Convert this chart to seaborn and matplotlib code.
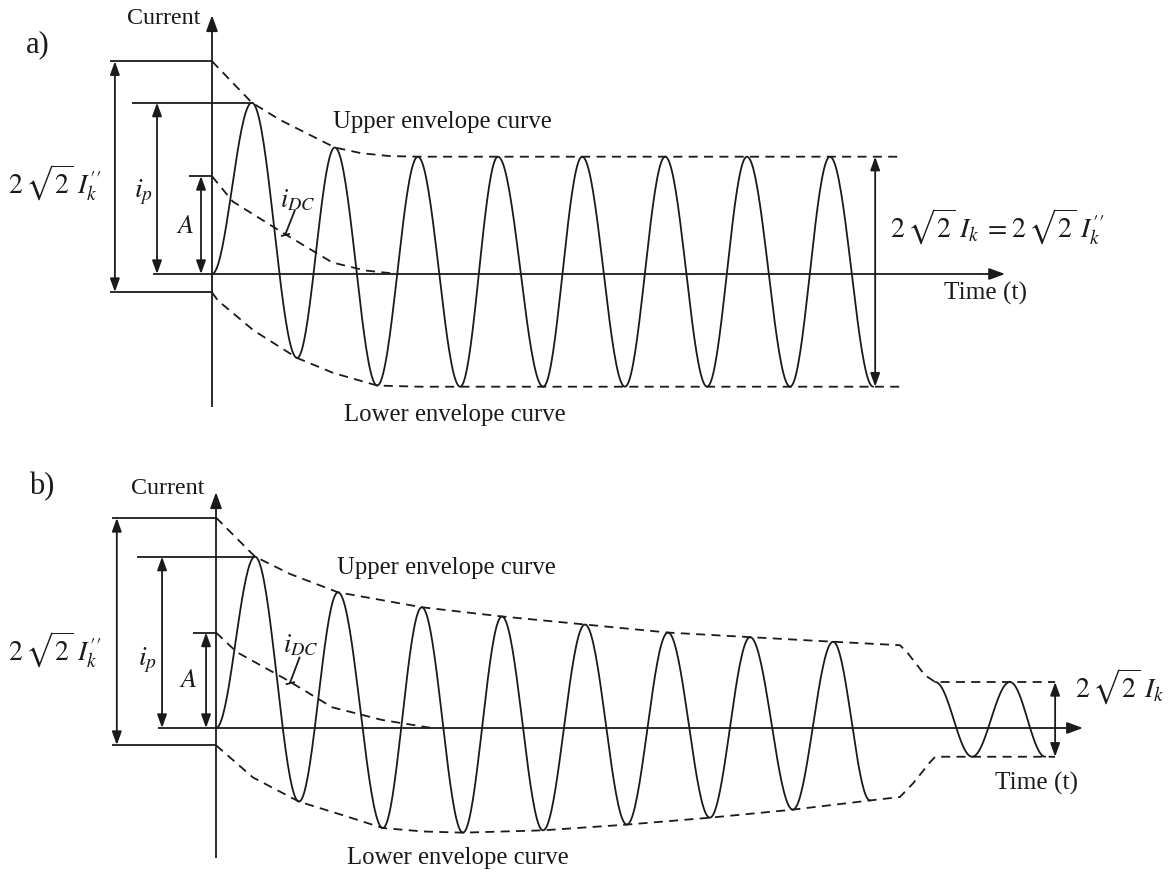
import numpy as np
import matplotlib
matplotlib.use("Agg")
import matplotlib.pyplot as plt
import seaborn as sns

# ---------------- data (time in ms, current in per-unit of steady peak) ----------------
# panel a) : far-from-generator short circuit
wave_a_t = [0, 9.6, 20.5, 29.6, 39.8, 49.6, 59.8, 68.9, 79.8, 89.2, 99.5, 109.2, 119.3, 128.9, 139.3, 148.9, 159.3]
wave_a_i = [0, 1.49, -0.73, 1.10, -0.97, 1.02, -0.98, 1.02, -0.98, 1.02, -0.98, 1.02, -0.98, 1.02, -0.98, 1.02, -0.98]
up_a_t = [0, 9.6, 16.4, 29.6, 36, 43, 50, 166.5]
up_a_i = [1.85, 1.49, 1.34, 1.10, 1.05, 1.025, 1.02, 1.02]
lo_a_t = [0, 1.4, 10, 20.5, 29.2, 39.8, 50, 166.5]
lo_a_i = [-0.16, -0.23, -0.49, -0.73, -0.86, -0.97, -0.98, -0.98]
dc_a_t = [0, 5, 17, 29, 37, 45]
dc_a_i = [0.85, 0.63, 0.36, 0.10, 0.03, 0.0]

# panel b) : near-to-generator short circuit
wave_b_t = [0, 9.4, 20.0, 29.4, 40.2, 49.6, 59.5, 68.9, 78.8, 88.9, 99.0, 108.9, 119.0, 128.7, 139.0, 148.7, 157.6]
wave_b_i = [0, 1.49, -0.64, 1.18, -0.87, 1.05, -0.91, 0.97, -0.89, 0.90, -0.84, 0.83, -0.78, 0.79, -0.71, 0.75, -0.63]
tail_b_t = [173.3, 182.2, 191.3, 199.8]
tail_b_i = [0.40, -0.25, 0.40, -0.25]
up_b_t = [0, 9.4, 17.8, 29.4, 49.6, 68.9, 88.9, 108.9, 128.7, 148.7, 164.8, 166.5, 170.8, 173.3, 202.2]
up_b_i = [1.83, 1.49, 1.34, 1.18, 1.05, 0.97, 0.90, 0.83, 0.79, 0.75, 0.72, 0.66, 0.46, 0.40, 0.40]
lo_b_t = [0, 8.9, 20.0, 31.6, 40.2, 50.0, 59.5, 78.8, 99.0, 119.0, 139.0, 157.6, 164.8, 168, 172, 173.3, 202.2]
lo_b_i = [-0.15, -0.43, -0.64, -0.77, -0.87, -0.90, -0.91, -0.89, -0.84, -0.78, -0.71, -0.63, -0.60, -0.48, -0.30, -0.25, -0.25]
dc_b_t = [0, 5, 17, 28, 40, 52]
dc_b_i = [0.83, 0.66, 0.42, 0.18, 0.07, 0.0]

# text
lbl_current = "Current"
lbl_time = "Time (t)"
lbl_upper = "Upper envelope curve"
lbl_lower = "Lower envelope curve"
lbl_ik2 = r"$2\,\sqrt{2}\;I_k^{\prime\prime}$"
lbl_ip = r"$i_p$"
lbl_A = r"$A$"
lbl_idc = r"$i_{DC}$"
lbl_right_a = r"$2\,\sqrt{2}\;I_k\;=2\,\sqrt{2}\;I_k^{\prime\prime}$"
lbl_right_b = r"$2\,\sqrt{2}\;I_k$"

# ---------------- style ----------------
sns.set_theme(style="white")
plt.rcParams["font.family"] = ["Liberation Serif", "DejaVu Serif"]
plt.rcParams["mathtext.fontset"] = "stix"

INK = "#1a1a1a"
LW = 1.3
DASH = (0, (5, 3.5))
PX_T = 4.15   # px per ms
PX_I = 115.0  # px per unit current


def cosine_path(ts, vs, n=40):
    T, V = [], []
    for k in range(len(ts) - 1):
        s = np.linspace(0, 1, n)
        T.append(ts[k] + (ts[k + 1] - ts[k]) * s)
        V.append(vs[k] + (vs[k + 1] - vs[k]) * (1 - np.cos(np.pi * s)) / 2)
    return np.concatenate(T), np.concatenate(V)


def line(ax, t, i, dashed=False):
    kw = dict(color=INK, lw=LW, estimator=None, sort=False, ax=ax)
    if dashed:
        kw["linestyle"] = DASH
    sns.lineplot(x=np.asarray(t, float), y=np.asarray(i, float), **kw)


def arrow(ax, p0, p1, both=True, big=False):
    if big:
        st = "-|>,head_length=0.6,head_width=0.22"
    else:
        st = ("<|-|>" if both else "-|>") + ",head_length=0.5,head_width=0.18"
    ax.annotate("", xy=p1, xytext=p0,
                arrowprops=dict(arrowstyle=st, lw=LW, color=INK, shrinkA=0, shrinkB=0,
                                mutation_scale=16))


def seg(ax, t0, t1, i0, i1):
    ax.plot([t0, t1], [i0, i1], color=INK, lw=LW, solid_capstyle="butt")


fig = plt.figure(figsize=(11.73, 8.75), dpi=100)
fig.patch.set_facecolor("white")

# panel placement (pixel rows) and origins (pixel)
panels = [
    dict(rect=[0, 1 - 438 / 875, 1, 438 / 875], x0=212, y0=274, row_top=0, row_bot=438),
    dict(rect=[0, 0, 1, 437 / 875], x0=216, y0=728, row_top=438, row_bot=875),
]

axes = []
for p in panels:
    ax = fig.add_axes(p["rect"])
    ax.set_xlim(-p["x0"] / PX_T, (1173 - p["x0"]) / PX_T)
    ax.set_ylim((p["y0"] - p["row_bot"]) / PX_I, (p["y0"] - p["row_top"]) / PX_I)
    ax.axis("off")
    axes.append(ax)

TXT = 17.8
MTH = 20

# ---------------- panel a ----------------
ax = axes[0]
t, v = cosine_path(wave_a_t, wave_a_i)
line(ax, t, v)
line(ax, up_a_t, up_a_i, dashed=True)
line(ax, lo_a_t, lo_a_i, dashed=True)
line(ax, dc_a_t, dc_a_i, dashed=True)
# axes
seg(ax, 0, 0, -1.157, 2.0)
arrow(ax, (0, 2.0), (0, 2.25), both=False, big=True)
seg(ax, -14.2, 185, 0, 0)
arrow(ax, (185, 0), (191.1, 0), both=False, big=True)
# brackets
seg(ax, -24.6, 0, 1.85, 1.85)
seg(ax, -24.6, 0, -0.157, -0.157)
arrow(ax, (-23.4, -0.157), (-23.4, 1.85))
seg(ax, -19.3, 9.6, 1.49, 1.49)
arrow(ax, (-13.25, 0), (-13.25, 1.49))
seg(ax, -5.5, 0, 0.852, 0.852)
arrow(ax, (-2.65, 0), (-2.65, 0.852))
arrow(ax, (159.8, -0.98), (159.8, 1.02))
# i_DC pointer
seg(ax, 20.0, 17.6, 0.557, 0.339)
seg(ax, 16.6, 18.8, 0.33, 0.35)
# labels
ax.text(-42.0, 1.99, "a)", fontsize=22, ha="center", va="center", color=INK)
ax.text(-2.9, 2.22, lbl_current, fontsize=TXT - 0.5, ha="right", va="center", color=INK)
ax.text(-37.8, 0.79, lbl_ik2, fontsize=MTH, ha="center", va="center", color=INK)
ax.text(-16.6, 0.71, lbl_ip, fontsize=MTH, ha="center", va="center", color=INK)
ax.text(-6.5, 0.41, lbl_A, fontsize=MTH - 1, ha="center", va="center", color=INK)
ax.text(20.7, 0.64, lbl_idc, fontsize=MTH - 1, ha="center", va="center", color=INK)
ax.text(55.5, 1.32, lbl_upper, fontsize=TXT, ha="center", va="center", color=INK)
ax.text(58.6, -1.226, lbl_lower, fontsize=TXT, ha="center", va="center", color=INK)
ax.text(186.5, -0.165, lbl_time, fontsize=TXT + 0.5, ha="center", va="center", color=INK)
ax.text(163.4, 0.41, lbl_right_a, fontsize=MTH, ha="left", va="center", color=INK)

# ---------------- panel b ----------------
ax = axes[1]
t, v = cosine_path(wave_b_t, wave_b_i)
line(ax, t, v)
t, v = cosine_path(tail_b_t, tail_b_i)
line(ax, t, v)
line(ax, up_b_t, up_b_i, dashed=True)
line(ax, lo_b_t, lo_b_i, dashed=True)
line(ax, dc_b_t, dc_b_i, dashed=True)
seg(ax, 0, 0, -1.13, 1.82)
arrow(ax, (0, 1.82), (0, 2.05), both=False, big=True)
seg(ax, -14.0, 203, 0, 0)
arrow(ax, (203, 0), (208.9, 0), both=False, big=True)
seg(ax, -25.1, 0, 1.826, 1.826)
seg(ax, -25.1, 0, -0.148, -0.148)
arrow(ax, (-23.9, -0.148), (-23.9, 1.826))
seg(ax, -19.0, 9.4, 1.49, 1.49)
arrow(ax, (-13.0, 0), (-13.0, 1.49))
seg(ax, -5.5, 0, 0.83, 0.83)
arrow(ax, (-2.4, 0), (-2.4, 0.83))
arrow(ax, (202.2, -0.25), (202.2, 0.40))
seg(ax, 20.2, 17.8, 0.62, 0.39)
seg(ax, 16.8, 19.0, 0.38, 0.40)
ax.text(-41.9, 2.10, "b)", fontsize=22, ha="center", va="center", color=INK)
ax.text(-2.9, 2.08, lbl_current, fontsize=TXT - 0.5, ha="right", va="center", color=INK)
ax.text(-38.9, 0.68, lbl_ik2, fontsize=MTH, ha="center", va="center", color=INK)
ax.text(-16.6, 0.59, lbl_ip, fontsize=MTH, ha="center", va="center", color=INK)
ax.text(-6.7, 0.41, lbl_A, fontsize=MTH - 1, ha="center", va="center", color=INK)
ax.text(20.5, 0.72, lbl_idc, fontsize=MTH - 1, ha="center", va="center", color=INK)
ax.text(55.5, 1.39, lbl_upper, fontsize=TXT, ha="center", va="center", color=INK)
ax.text(58.3, -1.13, lbl_lower, fontsize=TXT, ha="center", va="center", color=INK)
ax.text(197.6, -0.48, lbl_time, fontsize=TXT + 0.5, ha="center", va="center", color=INK)
ax.text(207.0, 0.36, lbl_right_b, fontsize=MTH, ha="left", va="center", color=INK)

fig.savefig("out.png", dpi=100, facecolor="white")
